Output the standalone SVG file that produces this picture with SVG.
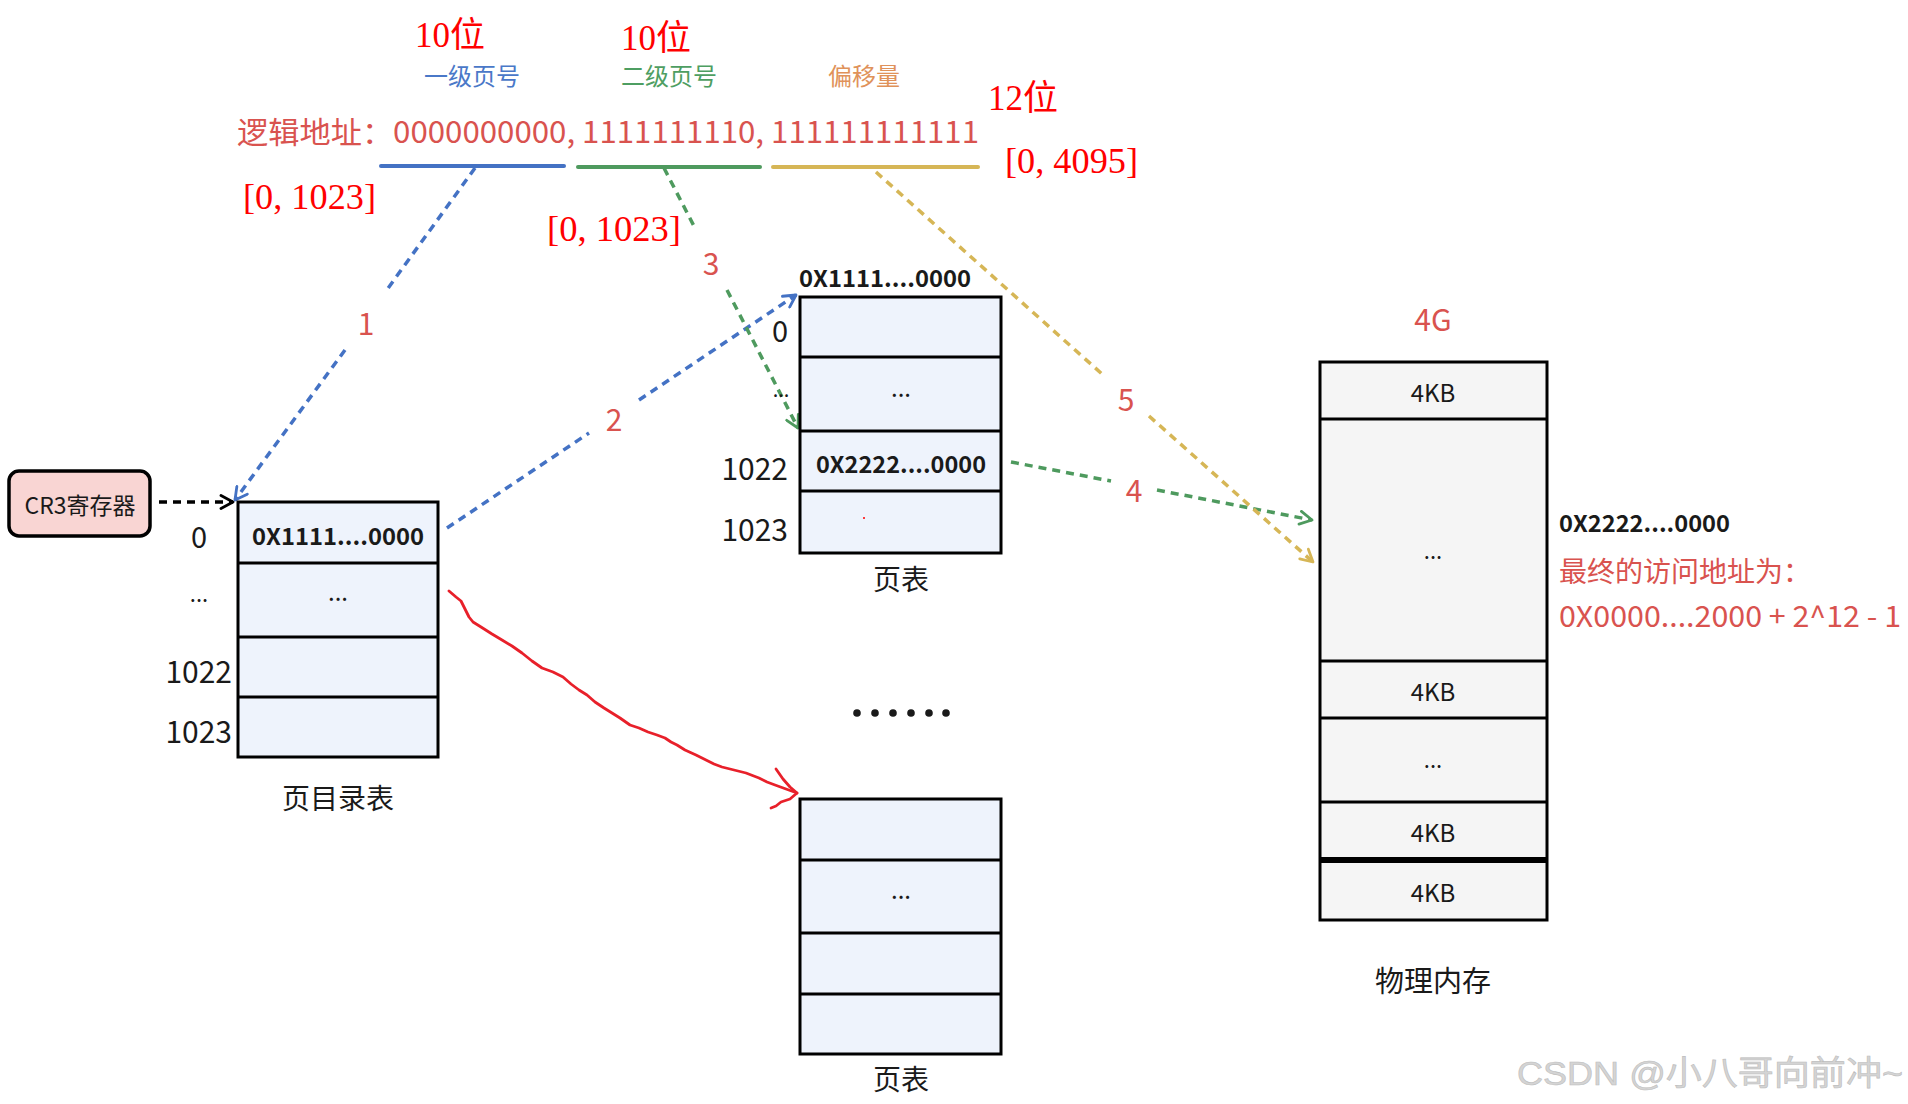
<svg xmlns="http://www.w3.org/2000/svg" width="1908" height="1104" viewBox="0 0 1908 1104">
<defs>
<style>
.serif{font-family:"Liberation Serif","Noto Sans CJK SC",serif;fill:#FF0000;font-size:35px}
.sub{font-family:"Noto Sans CJK SC","Noto Sans",sans-serif;font-size:24px}
.lbl{font-family:"Noto Sans CJK SC","Noto Sans",sans-serif;font-size:30px;fill:#D9534F;text-anchor:middle;dominant-baseline:central}
.txt{font-family:"Noto Sans CJK SC","Noto Sans",sans-serif;fill:#1a1a1a}
.mid{text-anchor:middle;dominant-baseline:central}
.end{text-anchor:end;dominant-baseline:central}
.b{font-weight:bold;font-size:23px}
.cell{fill:#EEF3FC;stroke:#000;stroke-width:3}
.mem{fill:#F5F5F5;stroke:#000;stroke-width:3}
.dv{stroke:#000;stroke-width:3}
.dash{fill:none;stroke-width:3.5;stroke-dasharray:8 6}
.red{fill:#D9534F}
</style>
<marker id="mBlue" viewBox="0 0 16 16" refX="14" refY="8" markerWidth="16" markerHeight="16" markerUnits="userSpaceOnUse" orient="auto"><path d="M2,1.5 L14,8 L2,14.5" fill="none" stroke="#4472C4" stroke-width="2.8" stroke-linecap="round" stroke-linejoin="round"/></marker>
<marker id="mGreen" viewBox="0 0 16 16" refX="14" refY="8" markerWidth="16" markerHeight="16" markerUnits="userSpaceOnUse" orient="auto"><path d="M2,1.5 L14,8 L2,14.5" fill="none" stroke="#4E9A5E" stroke-width="2.8" stroke-linecap="round" stroke-linejoin="round"/></marker>
<marker id="mGold" viewBox="0 0 16 16" refX="14" refY="8" markerWidth="16" markerHeight="16" markerUnits="userSpaceOnUse" orient="auto"><path d="M2,1.5 L14,8 L2,14.5" fill="none" stroke="#D6B656" stroke-width="2.8" stroke-linecap="round" stroke-linejoin="round"/></marker>
<marker id="mBlack" viewBox="0 0 16 16" refX="14" refY="8" markerWidth="16" markerHeight="16" markerUnits="userSpaceOnUse" orient="auto"><path d="M2,1.5 L14,8 L2,14.5" fill="none" stroke="#000" stroke-width="2.8" stroke-linecap="round" stroke-linejoin="round"/></marker>
</defs>
<rect x="0" y="0" width="1908" height="1104" fill="#FFFFFF"/>

<g id="address">
<text class="serif" x="415" y="47">10位</text>
<text class="serif" x="621" y="50">10位</text>
<text class="serif" x="988" y="110">12位</text>
<text class="sub" x="424" y="85" fill="#4A78C8">一级页号</text>
<text class="sub" x="621" y="85" fill="#4E9E62">二级页号</text>
<text class="sub" x="828" y="85" fill="#E0925A">偏移量</text>
<text x="237" y="143" font-family="Noto Sans CJK SC, Noto Sans, sans-serif" font-size="30" fill="#D9534F" textLength="742" lengthAdjust="spacingAndGlyphs">逻辑地址：0000000000, 1111111110, 111111111111</text>
<line x1="381" y1="166" x2="564" y2="166" stroke="#4472C4" stroke-width="4" stroke-linecap="round"/>
<line x1="578" y1="167" x2="760" y2="167" stroke="#4E9A5E" stroke-width="4" stroke-linecap="round"/>
<line x1="773" y1="167" x2="978" y2="167" stroke="#D6B656" stroke-width="4" stroke-linecap="round"/>
<text class="serif" x="243" y="209" textLength="133" lengthAdjust="spacingAndGlyphs">[0, 1023]</text>
<text class="serif" x="547" y="241" textLength="134" lengthAdjust="spacingAndGlyphs">[0, 1023]</text>
<text class="serif" x="1005" y="173" textLength="133" lengthAdjust="spacingAndGlyphs">[0, 4095]</text>
</g>

<g id="connectors">
<path class="dash" stroke="#4472C4" d="M475,168 L386,291"/>
<path class="dash" stroke="#4472C4" d="M345,350 L235,500" marker-end="url(#mBlue)"/>
<path class="dash" stroke="#4472C4" d="M447,528 L589,433"/>
<path class="dash" stroke="#4472C4" d="M639,400 L796,295" marker-end="url(#mBlue)"/>
<path class="dash" stroke="#4E9A5E" d="M664,168 L696,230"/>
<path class="dash" stroke="#4E9A5E" d="M727,290 L798,428" marker-end="url(#mGreen)"/>
<path class="dash" stroke="#4E9A5E" d="M1011,462 L1111,481"/>
<path class="dash" stroke="#4E9A5E" d="M1157,490 L1312,520" marker-end="url(#mGreen)"/>
<path class="dash" stroke="#D6B656" d="M876,172 L1102,374"/>
<path class="dash" stroke="#D6B656" d="M1149,416 L1313,562" marker-end="url(#mGold)"/>
<path class="dash" stroke="#000" d="M159,502 L233,502" marker-end="url(#mBlack)"/>
<path fill="none" stroke="#E8202A" stroke-width="2.8" stroke-linejoin="round" stroke-linecap="round" d="M449,591 L456,597 L461,601 L465,609 L469,617 L473,622 L481,627 L492,634 L502,640 L512,646 L522,653 L532,661 L542,668 L553,672 L563,677 L571,684 L579,690 L587,695 L595,702 L604,708 L612,713 L620,718 L630,725 L639,728 L648,732 L657,735 L665,738 L671,742 L677,745 L685,750 L696,755 L706,760 L714,764 L722,767 L734,770 L746,773 L759,778 L767,782 L775,785 L786,789 L797,793"/>
<path fill="none" stroke="#E8202A" stroke-width="2.8" stroke-linejoin="round" stroke-linecap="round" d="M776,769 L783,779 L790,787 L797,793 L790,799 L781,802 L776,806 L771,808"/>
<text class="lbl" x="366" y="322">1</text>
<text class="lbl" x="614" y="418">2</text>
<text class="lbl" x="711" y="262">3</text>
<text class="lbl" x="1134" y="489">4</text>
<text class="lbl" x="1126" y="398">5</text>
</g>

<g id="cr3">
<rect x="9" y="471" width="141" height="65" rx="10" ry="10" fill="#F9D5D3" stroke="#000" stroke-width="3.5"/>
<text class="txt mid" x="80" y="504" font-size="23">CR3寄存器</text>
</g>

<g id="page-directory">
<rect class="cell" x="238" y="502" width="200" height="255"/>
<line class="dv" x1="238" y1="563" x2="438" y2="563"/>
<line class="dv" x1="238" y1="637" x2="438" y2="637"/>
<line class="dv" x1="238" y1="697" x2="438" y2="697"/>
<text class="txt mid b" x="338" y="535" textLength="172" lengthAdjust="spacingAndGlyphs">0X1111....0000</text>
<text class="txt mid" x="338" y="590" font-size="24">...</text>
<text class="txt mid" x="199" y="535" font-size="29">0</text>
<text class="txt mid" x="199" y="592" font-size="22">...</text>
<text class="txt end" x="232" y="670" font-size="30">1022</text>
<text class="txt end" x="232" y="730" font-size="30">1023</text>
<text class="txt mid" x="338" y="797" font-size="28">页目录表</text>
</g>

<g id="page-table-1">
<text class="txt b" x="799" y="287" textLength="172" lengthAdjust="spacingAndGlyphs">0X1111....0000</text>
<rect class="cell" x="800" y="297" width="201" height="256"/>
<line class="dv" x1="800" y1="357" x2="1001" y2="357"/>
<line class="dv" x1="800" y1="431" x2="1001" y2="431"/>
<line class="dv" x1="800" y1="491" x2="1001" y2="491"/>
<text class="txt mid" x="901" y="386" font-size="24">...</text>
<text class="txt mid b" x="901" y="463" textLength="170" lengthAdjust="spacingAndGlyphs">0X2222....0000</text>
<circle cx="864" cy="518" r="1" fill="#FF0000"/>
<text class="txt mid" x="780" y="329" font-size="29">0</text>
<text class="txt mid" x="781" y="388" font-size="20">...</text>
<text class="txt end" x="788" y="467" font-size="30">1022</text>
<text class="txt end" x="788" y="528" font-size="30">1023</text>
<text class="txt mid" x="901" y="578" font-size="28">页表</text>
</g>

<g id="ellipsis">
<circle cx="857" cy="713" r="3.8" fill="#1a1a1a"/>
<circle cx="875" cy="713" r="3.8" fill="#1a1a1a"/>
<circle cx="893" cy="713" r="3.8" fill="#1a1a1a"/>
<circle cx="911" cy="713" r="3.8" fill="#1a1a1a"/>
<circle cx="929" cy="713" r="3.8" fill="#1a1a1a"/>
<circle cx="946" cy="713" r="3.8" fill="#1a1a1a"/>
</g>

<g id="page-table-2">
<rect class="cell" x="800" y="799" width="201" height="255"/>
<line class="dv" x1="800" y1="860" x2="1001" y2="860"/>
<line class="dv" x1="800" y1="933" x2="1001" y2="933"/>
<line class="dv" x1="800" y1="994" x2="1001" y2="994"/>
<text class="txt mid" x="901" y="888" font-size="24">...</text>
<text class="txt mid" x="901" y="1078" font-size="28">页表</text>
</g>

<g id="physical-memory">
<text class="lbl" x="1433" y="318">4G</text>
<rect class="mem" x="1320" y="362" width="227" height="558"/>
<line class="dv" x1="1320" y1="419" x2="1547" y2="419"/>
<line class="dv" x1="1320" y1="661" x2="1547" y2="661"/>
<line class="dv" x1="1320" y1="718" x2="1547" y2="718"/>
<line class="dv" x1="1320" y1="802" x2="1547" y2="802"/>
<line x1="1320" y1="860" x2="1547" y2="860" stroke="#000" stroke-width="6"/>
<text class="txt mid" x="1433" y="391" font-size="24">4KB</text>
<text class="txt mid" x="1433" y="549" font-size="22">...</text>
<text class="txt mid" x="1433" y="758" font-size="22">...</text>
<text class="txt mid" x="1433" y="690" font-size="24">4KB</text>
<text class="txt mid" x="1433" y="831" font-size="24">4KB</text>
<text class="txt mid" x="1433" y="891" font-size="24">4KB</text>
<text class="txt mid" x="1433" y="979" font-size="29">物理内存</text>
</g>

<g id="result">
<text class="txt b" x="1559" y="532" textLength="171" lengthAdjust="spacingAndGlyphs">0X2222....0000</text>
<text class="red" x="1559" y="582" font-family="Noto Sans CJK SC, Noto Sans, sans-serif" font-size="28">最终的访问地址为：</text>
<text class="red" x="1559" y="627" font-family="Noto Sans CJK SC, Noto Sans, sans-serif" font-size="29" textLength="342" lengthAdjust="spacingAndGlyphs">0X0000....2000 + 2^12 - 1</text>
</g>

<g id="watermark">
<text x="1517" y="1085" font-family="Liberation Sans, Noto Sans CJK SC, sans-serif" font-size="34" fill="#D4D4D4" stroke="#BDBDBD" stroke-width="0.6" textLength="386" lengthAdjust="spacingAndGlyphs">CSDN @小八哥向前冲~</text>
</g>
</svg>
